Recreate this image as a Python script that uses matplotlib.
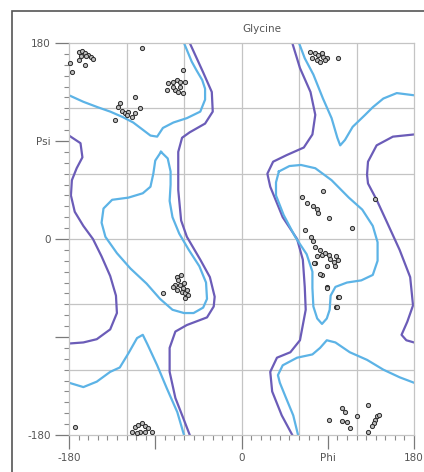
import matplotlib
matplotlib.use("Agg")
import matplotlib.pyplot as plt
from matplotlib.patches import Rectangle

# ── Data (phi, psi in degrees) ────────────────────────────────────────────
# light blue contour pieces
blue_top_left_phi = [-180, -165, -150, -137, -124, -113, -104, -95, -88, -82, -71, -57, -43, -38, -38, -41, -47, -52, -60]
blue_top_left_psi = [132, 126, 121, 117, 112, 107, 101, 95, 94, 102, 107, 111, 117, 128, 138, 146, 155, 163, 180]

blue_bot_left_phi = [-180, -165, -151, -137, -127, -118, -109, -103, -98, -88, -78, -67, -60]
blue_bot_left_psi = [-132, -136, -131, -122, -118, -105, -91, -88, -97, -116, -137, -159, -180]

blue_top_right_phi = [60, 66, 75, 85, 94, 100, 103, 108, 116, 129, 137, 148, 162, 180]
blue_top_right_psi = [180, 166, 151, 129, 111, 93, 86, 91, 103, 114, 121, 129, 134, 132]

blue_bot_right_phi = [59, 54, 46, 40, 38, 43, 58, 74, 82, 89, 98, 113, 131, 148, 165, 180]
blue_bot_right_psi = [-180, -162, -145, -132, -125, -116, -109, -106, -100, -93, -95, -104, -111, -120, -127, -132]

blue_loop_left_phi = [-84, -77, -74, -74, -75, -72, -65, -55, -44, -37, -36, -40, -50, -60, -72, -85, -99, -116, -130, -142, -146, -144, -135, -118, -103, -95, -92, -90, -84]
blue_loop_left_psi = [80, 74, 62, 50, 35, 20, 5, -10, -25, -40, -55, -63, -68, -68, -65, -55, -41, -27, -13, 2, 15, 28, 36, 38, 42, 48, 60, 72, 80]

blue_loop_right_phi = [39, 50, 62, 77, 94, 112, 126, 137, 142, 142, 137, 125, 110, 98, 93, 92, 89, 84, 79, 75, 74, 74, 68, 56, 44, 36, 36, 39]
blue_loop_right_psi = [62, 67, 68, 65, 54, 38, 27, 12, -3, -20, -33, -38, -40, -44, -52, -65, -73, -78, -73, -62, -45, -30, -14, 2, 22, 40, 52, 62]

# purple contour pieces
purple_left_edge_phi = [-180, -168, -166, -172, -177, -178, -174, -165, -155, -146, -137, -131, -130, -137, -151, -165, -180]
purple_left_edge_psi = [95, 88, 75, 65, 54, 40, 25, 12, 0, -16, -34, -52, -68, -83, -92, -95, -96]

purple_left_mid_phi = [-54, -40, -31, -30, -38, -54, -62, -66, -66, -66, -63, -57, -43, -33, -28, -29, -36, -57, -69, -75, -75, -69, -61, -54]
purple_left_mid_psi = [180, 153, 135, 117, 106, 98, 93, 80, 59, 45, 17, 2, -19, -35, -53, -62, -72, -79, -85, -100, -122, -146, -164, -180]

purple_right_mid_phi = [53, 61, 72, 77, 74, 65, 47, 33, 27, 30, 43, 58, 64, 66, 67, 64, 61, 51, 37, 30, 32, 42, 53]
purple_right_mid_psi = [180, 157, 135, 114, 96, 84, 77, 71, 60, 48, 20, 0, -19, -44, -65, -79, -93, -104, -109, -122, -140, -162, -180]

purple_right_edge_phi = [180, 158, 141, 132, 131, 132, 141, 152, 165, 176, 179, 173, 167, 172, 180]
purple_right_edge_psi = [96, 94, 86, 71, 59, 51, 36, 15, -10, -35, -61, -76, -88, -93, -95]

# residues
res_phi = [-170, -166, -163, -160, -157, -155, -162, -168, -179, -177, -170, -163, -104,
           -127, -129, -125, -122, -118, -119, -114, -111, -106, -111, -132,
           -61, -77, -71, -67, -64, -59, -78, -69, -66, -61, -71, -64,
           -67, -66, -69, -64, -61, -62, -59, -56, -82, -67, -71, -57, -59, -63, -60,
           -114, -111, -108, -104, -101, -98, -93, -106, -109, -101, -174,
           71, 77, 80, 84, 85, 89, 79, 82, 87, 74, 101,
           63, 85, 68, 75, 79, 80, 91, 115, 66, 73, 75, 77, 82, 84, 87, 91, 92, 96,
           99, 101, 79, 77, 89, 98, 84, 89, 101, 99, 139, 82, 89, 102, 100, 76,
           91, 105, 108, 110, 113, 105, 120, 132, 141, 139, 138, 136, 132, 143]
res_psi = [172, 173, 171, 169, 167, 165, 168, 168, 162, 153, 164, 160, 175,
           125, 121, 118, 116, 117, 114, 112, 116, 120, 130, 109,
           155, 143, 144, 146, 144, 144, 137, 137, 135, 134, 140, 140,
           -35, -38, -42, -42, -45, -49, -50, -51, -50, -47, -44, -47, -54, -33, -40,
           -177, -173, -171, -169, -172, -174, -177, -177, -178, -177, -173,
           172, 171, 169, 171, 167, 166, 164, 163, 164, 166, 166,
           39, 44, 33, 30, 28, 24, 19, 10, 8, 2, -2, -7, -10, -15, -13, -15, -18, -21,
           -16, -19, -16, -22, -25, -25, -33, -44, -53, -62, 37, -32, -45, -53, -62, -22,
           -166, -155, -159, -168, -174, -167, -163, -152, -163, -166, -169, -172, -177, -162]

x_ticks = [-180, -90, 0, 90, 180]
x_labels = ["-180", "", "0", "Phi", "180"]
y_ticks = [-180, -90, 0, 90, 180]
y_labels = ["-180", "", "0", "Psi", "180"]
grid_vals = [-120, -60, 0, 60, 120]
minor_vals = [v for v in range(-170, 180, 10) if v % 90 != 0]

# ── Plot ───────────────────────────────────────────────────────────────────
fig = plt.figure(figsize=(4.24, 4.72), dpi=100)
ax = fig.add_axes([69 / 424, 37 / 472, 345 / 424, 392 / 472])

for g in grid_vals:
    ax.axvline(g, color="#c4c4c4", lw=0.9, zorder=0)
    ax.axhline(g, color="#c4c4c4", lw=0.9, zorder=0)

purple = "#6b5cb8"
blue = "#5cb3e6"
lw = 1.6
for px, py in [(purple_left_edge_phi, purple_left_edge_psi),
               (purple_left_mid_phi, purple_left_mid_psi),
               (purple_right_mid_phi, purple_right_mid_psi),
               (purple_right_edge_phi, purple_right_edge_psi)]:
    ax.plot(px, py, color=purple, lw=lw, solid_joinstyle="round", zorder=2)
for px, py in [(blue_top_left_phi, blue_top_left_psi),
               (blue_bot_left_phi, blue_bot_left_psi),
               (blue_top_right_phi, blue_top_right_psi),
               (blue_bot_right_phi, blue_bot_right_psi),
               (blue_loop_left_phi, blue_loop_left_psi),
               (blue_loop_right_phi, blue_loop_right_psi)]:
    ax.plot(px, py, color=blue, lw=lw, solid_joinstyle="round", zorder=2)

ax.scatter(res_phi, res_psi, s=9, facecolors="#bdbdbd", edgecolors="#2a2a2a",
           linewidths=0.7, zorder=3, clip_on=False)

ax.set_xlim(-180, 180)
ax.set_ylim(-180, 180)
ax.set_xticks(x_ticks, x_labels)
ax.set_yticks(y_ticks, y_labels)
ax.set_xticks(minor_vals, minor=True)
ax.set_yticks(minor_vals, minor=True)
ax.tick_params(axis="both", which="major", direction="out", length=10, width=0.9,
               color="#7a7a7a", labelsize=7.5, labelcolor="#555555", pad=3,
               bottom=True, left=True)
ax.tick_params(axis="both", which="minor", direction="out", length=3.5,
               width=0.8, color="#8a8a8a", bottom=True, left=True)
for s in ax.spines.values():
    s.set_color("#c4c4c4")
    s.set_linewidth(0.9)

fig.text(262 / 424, 1 - 29 / 472, "Glycine", ha="center", va="center",
         fontsize=7.5, color="#555555")

# outer frame of the cropped screenshot
fig.patches.append(Rectangle((12 / 424, -0.1), 1.2, 1 - 11 / 472 + 0.1,
                             transform=fig.transFigure, fill=False,
                             edgecolor="#555555", lw=1.2))

plt.savefig("out.png", dpi=100)
